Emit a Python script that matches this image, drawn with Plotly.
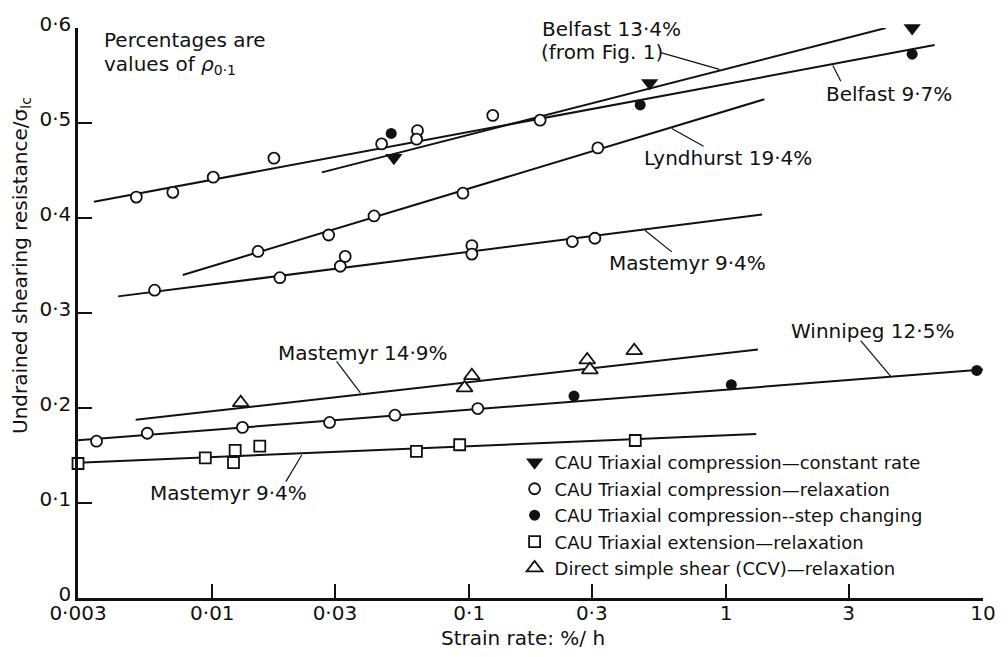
import plotly.graph_objects as go

# ---------------- data ----------------
# CAU triaxial compression - constant rate (filled down-triangles)
const_x = [0.0509, 0.504, 5.30]
const_y = [0.4635, 0.542, 0.600]

# CAU triaxial compression - relaxation (open circles)
relax_belfast_x = [0.00506, 0.00702, 0.01008, 0.01737, 0.0456, 0.0629, 0.0624, 0.1235, 0.1888]
relax_belfast_y = [0.422, 0.427, 0.443, 0.463, 0.478, 0.492, 0.483, 0.508, 0.503]
relax_lynd_x = [0.01506, 0.02836, 0.0426, 0.0945, 0.3167]
relax_lynd_y = [0.3648, 0.3821, 0.4022, 0.4261, 0.4738]
relax_mast_x = [0.00596, 0.01832, 0.03148, 0.0329, 0.1024, 0.1024, 0.252, 0.3084]
relax_mast_y = [0.324, 0.3372, 0.3492, 0.3596, 0.371, 0.362, 0.3752, 0.3787]
relax_winn_x = [0.003542, 0.005583, 0.0131, 0.0286, 0.0514, 0.108]
relax_winn_y = [0.1651, 0.1734, 0.1796, 0.1848, 0.1924, 0.1994]

# CAU triaxial compression - step changing (filled circles)
step_x = [0.0497, 0.463, 5.30, 0.2558, 1.048, 9.46]
step_y = [0.489, 0.519, 0.5725, 0.2126, 0.2246, 0.2396]

# CAU triaxial extension - relaxation (open squares)
ext_x = [0.003, 0.00939, 0.01227, 0.01209, 0.0153, 0.0623, 0.0918, 0.4429]
ext_y = [0.1416, 0.1475, 0.1554, 0.1426, 0.1599, 0.1544, 0.1613, 0.1658]

# Direct simple shear (CCV) - relaxation (open up-triangles)
dss_x = [0.0129, 0.0959, 0.1024, 0.288, 0.2949, 0.4389]
dss_y = [0.2056, 0.2212, 0.234, 0.2506, 0.2402, 0.2603]

# fitted lines (start / end of each)
line_names = ["Belfast 13·4%", "Belfast 9·7%", "Lyndhurst 19·4%", "Mastemyr 9·4% (comp.)",
              "Mastemyr 14·9%", "Winnipeg 12·5%", "Mastemyr 9·4% (ext.)"]
line_x0 = [0.0267, 0.00346, 0.00767, 0.0043, 0.00503, 0.003, 0.003]
line_x1 = [4.18, 6.48, 1.41, 1.38, 1.33, 10.0, 1.31]
line_y0 = [0.448, 0.417, 0.340, 0.3175, 0.1876, 0.166, 0.1423]
line_y1 = [0.600, 0.582, 0.525, 0.4036, 0.2617, 0.2405, 0.1727]

x_tickvals = [0.003, 0.01, 0.03, 0.1, 0.3, 1, 3, 10]
x_ticktext = ["0·003", "0·01", "0·03", "0·1", "0·3", "1", "3", "10"]
y_tickvals = [0, 0.1, 0.2, 0.3, 0.4, 0.5, 0.6]
y_ticktext = ["0", "0·1", "0·2", "0·3", "0·4", "0·5", "0·6"]

legend_labels = [
    "CAU Triaxial compression—constant rate",
    "CAU Triaxial compression—relaxation",
    "CAU Triaxial compression--step changing",
    "CAU Triaxial extension—relaxation",
    "Direct simple shear (CCV)—relaxation",
]

# ---------------- layout constants ----------------
W, H = 1008, 657
ML, MR, MT, MB = 78, 20, 20, 59
PW, PH = W - ML - MR, H - MT - MB
FONT = "DejaVu Sans"
INK = "#111111"


def px(xp):
    return (xp - ML) / PW


def py(yp):
    return (H - MB - yp) / PH


fig = go.Figure()

# fitted lines
for n, x0, x1, y0, y1 in zip(line_names, line_x0, line_x1, line_y0, line_y1):
    fig.add_trace(go.Scatter(x=[x0, x1], y=[y0, y1], mode="lines", name=n,
                             line=dict(color=INK, width=2), showlegend=False,
                             hoverinfo="skip"))

mk_line = dict(color=INK, width=1.8)
fig.add_trace(go.Scatter(x=const_x, y=const_y, mode="markers", name=legend_labels[0],
                         marker=dict(symbol="triangle-down", size=15, color=INK,
                                     line=dict(color=INK, width=0)), cliponaxis=False))
fig.add_trace(go.Scatter(x=relax_belfast_x + relax_lynd_x + relax_mast_x + relax_winn_x,
                         y=relax_belfast_y + relax_lynd_y + relax_mast_y + relax_winn_y,
                         mode="markers", name=legend_labels[1],
                         marker=dict(symbol="circle", size=11, color="white", line=mk_line),
                         cliponaxis=False))
fig.add_trace(go.Scatter(x=step_x, y=step_y, mode="markers", name=legend_labels[2],
                         marker=dict(symbol="circle", size=11, color=INK,
                                     line=dict(color=INK, width=0)), cliponaxis=False))
fig.add_trace(go.Scatter(x=ext_x, y=ext_y, mode="markers", name=legend_labels[3],
                         marker=dict(symbol="square", size=11, color="white", line=mk_line),
                         cliponaxis=False))
fig.add_trace(go.Scatter(x=dss_x, y=dss_y, mode="markers", name=legend_labels[4],
                         marker=dict(symbol="triangle-up", size=14, color="white", line=mk_line),
                         cliponaxis=False))

# ---------------- labels & leader lines ----------------
labels = [
    ("Percentages are", 102, 32),
    ("values of <i>ρ</i><sub>0·1</sub>", 102, 58),
    ("Belfast 13·4%", 543, 21),
    ("(from Fig. 1)", 542, 44),
    ("Belfast 9·7%", 828, 87),
    ("Lyndhurst 19·4%", 645, 152),
    ("Mastemyr 9·4%", 610, 258),
    ("Winnipeg 12·5%", 793, 327),
    ("Mastemyr 14·9%", 277, 350),
    ("Mastemyr 9·4%", 148, 492),
]
annotations = []
for t, xl, yc in labels:
    annotations.append(dict(text=t, xref="paper", yref="paper", x=px(xl), y=py(yc),
                            xanchor="left", yanchor="middle", showarrow=False,
                            font=dict(family=FONT, size=20, color=INK)))

annotations.append(dict(text="Undrained shearing resistance/σ<sub>lc</sub>",
                        xref="paper", yref="paper", x=px(20), y=py(261),
                        xanchor="center", yanchor="middle", textangle=-90, showarrow=False,
                        font=dict(family=FONT, size=20, color=INK)))
annotations.append(dict(text="Strain rate: %/ h", xref="paper", yref="paper",
                        x=px(525), y=py(639), xanchor="center", yanchor="middle",
                        showarrow=False, font=dict(family=FONT, size=20, color=INK)))

leaders = [
    (664, 45, 723, 62),
    (837, 58, 845, 74),
    (675, 122, 707, 140),
    (648, 225, 675, 247),
    (865, 337, 895, 373),
    (338, 358, 362, 390),
    (287, 480, 303, 453),
]
shapes = [dict(type="line", xref="paper", yref="paper", x0=px(a), y0=py(b), x1=px(c), y1=py(d),
               line=dict(color=INK, width=1.2)) for a, b, c, d in leaders]

axis_common = dict(showgrid=False, zeroline=False, showline=True, linecolor=INK, linewidth=2.5,
                   ticks="inside", ticklen=14, tickwidth=2, tickcolor=INK, mirror=False,
                   tickfont=dict(family=FONT, size=20, color=INK))

fig.update_layout(
    width=W, height=H,
    margin=dict(l=ML, r=MR, t=MT, b=MB),
    paper_bgcolor="white", plot_bgcolor="white",
    font=dict(family=FONT, size=20, color=INK),
    xaxis=dict(type="log", range=[-2.5229, 1.0], tickmode="array",
               tickvals=x_tickvals, ticktext=x_ticktext, ticklabelstandoff=-5,
               **axis_common),
    yaxis=dict(range=[0, 0.6], tickmode="array", tickvals=y_tickvals,
               ticktext=y_ticktext, ticklabelshift=-4, **axis_common),
    showlegend=True,
    legend=dict(x=px(517), y=py(514), xanchor="left", yanchor="middle",
                bgcolor="rgba(0,0,0,0)", borderwidth=0,
                font=dict(family=FONT, size=18, color=INK), tracegroupgap=0),
    annotations=annotations,
    shapes=shapes,
)

fig.write_html("out.html")
